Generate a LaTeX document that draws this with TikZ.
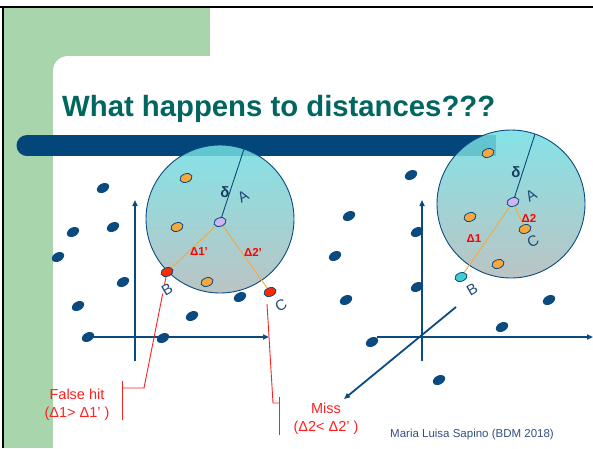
\documentclass[tikz,border=0pt]{standalone}
\usepackage{fontspec}
\setmainfont{Liberation Sans}
\usetikzlibrary{shapes.geometric,arrows.meta}
\definecolor{dblue}{HTML}{0B4A7E}
\definecolor{barblue}{HTML}{03467A}
\definecolor{sgreen}{HTML}{A8D5AB}
\definecolor{ttl}{HTML}{00665F}
\definecolor{orng}{HTML}{F6A83C}
\definecolor{lav}{HTML}{CDB4F2}
\definecolor{rdot}{HTML}{FF2A00}
\definecolor{cyd}{HTML}{3FCFD2}
\definecolor{ctop}{HTML}{70DEE2}
\definecolor{cbot}{HTML}{B0BABA}
\definecolor{lbl}{HTML}{1F4A7A}
\definecolor{redt}{HTML}{FF2020}
\definecolor{foot}{HTML}{34507F}
\begin{document}
\begin{tikzpicture}[x=1pt,y=-1pt,
  dk/.style={ellipse,fill=dblue,minimum width=13pt,minimum height=9pt,inner sep=0pt,rotate=28},
  pt/.style={ellipse,draw=dblue,line width=0.8pt,minimum width=12.5pt,minimum height=8.5pt,inner sep=0pt,rotate=20},
  od/.style={pt,fill=orng},
  ad/.style={pt,fill=lav},
  rd/.style={pt,fill=rdot},
  cd/.style={pt,fill=cyd},
  letter/.style={text=lbl,font=\fontsize{15}{15}\selectfont,inner sep=0.5pt,rotate=30},
  dlt/.style={text=red,font=\bfseries\fontsize{11.5}{11.5}\selectfont,inner sep=0pt},
  dlab/.style={text=lbl!80!black,font=\bfseries\fontsize{15}{15}\selectfont,inner sep=0pt},
  orline/.style={draw=orng,line width=0.9pt},
  rline/.style={draw=redt,line width=0.9pt},
  axis/.style={draw=dblue,line width=1.8pt},
  axarrow/.style={axis,-{Triangle[length=6pt,width=5pt]}},
  redtxt/.style={text=redt,font=\fontsize{14.5}{17}\selectfont,inner sep=0pt,anchor=base},
  circ/.style={top color=ctop,bottom color=cbot,fill opacity=0.85}
]
\useasboundingbox (0,0) rectangle (593,448);
\clip (0,0) rectangle (593,448);
% background
\fill[white] (0,0) rectangle (593,448);
\fill[sgreen] (4,8) rectangle (210,448);
\fill[white,rounded corners=15pt] (53,56) rectangle (620,480);
\fill[white] (210,8) rectangle (593,56);
\fill[black] (0,6) rectangle (593,8);
\fill[black] (2,6) rectangle (4,448);
% title and bar
\node[anchor=base west,inner sep=0pt,text=ttl,font=\bfseries\fontsize{29.3}{34}\selectfont] (title) at (62,116) {What happens to distances???};
\fill[barblue] (27,135) rectangle (496,156);
\fill[barblue] (27,145.5) circle (10.5);
% circles
\shade[circ] (220,219) circle (74);
\draw[dblue,line width=0.9pt] (220,219) circle (74);
\shade[circ] (511,204) circle (74);
\draw[dblue,line width=0.9pt] (511,204) circle (74);
\coordinate (Ltop) at (244,149);
\coordinate (Rtop) at (535,134);
% axes
\coordinate (LV1) at (135,361);
\coordinate (LV2) at (135,200);
\coordinate (LH2) at (269,337);
\coordinate (RV1) at (422,361);
\coordinate (RV2) at (422,200);
\coordinate (RH1) at (377,337);
\coordinate (RH2) at (593,337);
\coordinate (RD1) at (456,307);
\coordinate (RD2) at (344,399);
\draw[axarrow] (LV1) -- (LV2);
\draw[axarrow] (RV1) -- (RV2);
\draw[axarrow] (RH1) -- (RH2);
\draw[axarrow] (RD1) -- (RD2);
% dark dots left
\node[dk] (l1) at (103,188) {};
\node[dk] (l2) at (73,232) {};
\node[dk] (l3) at (113,227) {};
\node[dk] (l4) at (58,257) {};
\node[dk] (l5) at (123,282) {};
\node[dk] (l6) at (78,306) {};
\node[dk] (l7) at (240,297) {};
\node[dk] (l8) at (192,316) {};
\node[dk] (l9) at (88,337) {};
\node[dk] (l10) at (163,338) {};
\draw[axarrow] (l9.center) -- (LH2);
% dark dots right
\node[dk] (r1) at (411,175) {};
\node[dk] (r2) at (349,216) {};
\node[dk] (r3) at (417,232) {};
\node[dk] (r4) at (335,256) {};
\node[dk] (r5) at (417,287) {};
\node[dk] (r6) at (346,300) {};
\node[dk] (r7) at (549,300) {};
\node[dk] (r8) at (502,327) {};
\node[dk] (r9) at (372,342) {};
\node[dk] (r10) at (439,380) {};
% left circle content
\node[ad] (LA) at (220,222) {};
\node[rd] (LB) at (167,272) {};
\node[rd] (LC) at (270,292) {};
\draw[dblue,line width=0.9pt] (LA) -- (Ltop);
\draw[orline] (LA) -- (LB);
\draw[orline] (LA) -- (LC);
\node[od] (lo1) at (186,178) {};
\node[od] (lo2) at (177,227) {};
\node[od] (lo3) at (207,282) {};
\node[dlab] (Ldelta) at (225,192) {δ};
\node[letter] (LAl) at (243,197) {A};
\node[dlt] (Ld1) at (199,252) {Δ1’};
\node[dlt] (Ld2) at (253,252) {Δ2’};
% false hit / miss connectors
\coordinate (FH1) at (144,388);
\coordinate (FH2) at (122,388);
\coordinate (FB1) at (122,381);
\coordinate (FB2) at (122,420);
\draw[rline] (LB) -- (FH1) -- (FH2);
\draw[rline] (FB1) -- (FB2);
\coordinate (MS0) at (267,304);
\coordinate (MS1) at (273,403);
\coordinate (MS2) at (279,403);
\coordinate (MB1) at (279,397);
\coordinate (MB2) at (279,435);
\draw[rline] (MS0) -- (MS1) -- (MS2);
\draw[rline] (MB1) -- (MB2);
\node[letter,fill=white] (LBl) at (167,290) {B};
\node[letter] (LCl) at (281,305) {C};
% right circle content
\node[ad] (RA) at (513,202) {};
\node[od] (RC) at (525,229) {};
\node[cd] (RB) at (461,277) {};
\draw[dblue,line width=0.9pt] (RA) -- (Rtop);
\draw[orline] (RA) -- (RB);
\draw[orline] (RA) -- (RC);
\node[od] (ro1) at (488,153) {};
\node[od] (ro2) at (470,217) {};
\node[od] (ro3) at (498,264) {};
\node[dlab] (Rdelta) at (516,172) {δ};
\node[letter] (RAl) at (531,196) {A};
\node[letter] (RBl) at (472,290) {B};
\node[letter] (RCl) at (533,241) {C};
\node[dlt] (Rd1) at (474,239) {Δ1};
\node[dlt] (Rd2) at (529,218) {Δ2};
% texts
\node[redtxt] (fh1) at (77,399) {False hit};
\node[redtxt] (fh2) at (77,417) {(Δ1> Δ1’ )};
\node[redtxt] (ms1) at (326,413) {Miss};
\node[redtxt] (ms2) at (326,431) {(Δ2< Δ2’ )};
\node[anchor=base west,inner sep=0pt,text=foot,font=\fontsize{11.5}{13}\selectfont] (foot) at (390,437) {Maria Luisa Sapino (BDM 2018)};
\end{tikzpicture}
\end{document}
